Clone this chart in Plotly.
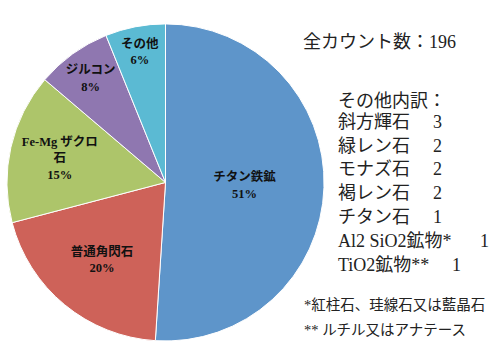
import plotly.graph_objects as go

minerals = ["チタン鉄鉱", "普通角閃石", "Fe-Mg ザクロ石", "ジルコン", "その他"]
display_names = ["チタン鉄鉱", "普通角閃石", "Fe-Mg ザクロ<br>石", "ジルコン", "その他"]
counts = [100, 39, 30, 15, 12]
colors = ["#5E95CA", "#CE6259", "#ADC56A", "#8F77B0", "#5BBAD3"]

total_count = 196
other_names = ["斜方輝石", "緑レン石", "モナズ石", "褐レン石", "チタン石", "Al2 SiO2鉱物*", "TiO2鉱物**"]
other_counts = [3, 2, 2, 2, 1, 1, 1]
footnotes = ["*紅柱石、珪線石又は藍晶石", "** ルチル又はアナテース"]

FONT = "Liberation Serif, Noto Sans CJK JP, serif"

fig = go.Figure()
fig.add_trace(go.Pie(
    labels=minerals,
    values=counts,
    customdata=display_names,
    texttemplate="<b>%{customdata}<br>%{percent:.0%}</b>",
    textposition="inside",
    insidetextorientation="horizontal",
    textfont=dict(family=FONT, size=12.5, color="#111"),
    marker=dict(colors=colors, line=dict(color="white", width=1)),
    sort=False,
    direction="clockwise",
    rotation=0,
    showlegend=False,
    hoverinfo="label+value+percent",
    domain=dict(x=[0.012, 0.65], y=[0.058, 0.934]),
))

ann = []
def px_x(x):
    return x / 500
def px_y(y):
    return 1 - y / 362

ann.append(dict(x=px_x(301), y=px_y(42), text=f"全カウント数：{total_count}", xanchor="left", yanchor="middle",
                font=dict(family=FONT, size=18, color="#222")))
ann.append(dict(x=px_x(336), y=px_y(101), text="その他内訳：", xanchor="left", yanchor="middle",
                font=dict(family=FONT, size=18, color="#222")))
line_y = [122, 145.5, 169, 193, 217, 241, 265]
num_x = [437, 437, 437, 437, 437, 484, 456]
for name, cnt, yy, nx in zip(other_names, other_counts, line_y, num_x):
    ann.append(dict(x=px_x(336), y=px_y(yy), text=name, xanchor="left", yanchor="middle",
                    font=dict(family=FONT, size=18, color="#222")))
    ann.append(dict(x=px_x(nx), y=px_y(yy), text=str(cnt), xanchor="center", yanchor="middle",
                    font=dict(family=FONT, size=18, color="#222")))
for t, yy in zip(footnotes, [305, 330]):
    ann.append(dict(x=px_x(302), y=px_y(yy), text=t, xanchor="left", yanchor="middle",
                    font=dict(family=FONT, size=14.5, color="#222")))
for a in ann:
    a.update(xref="paper", yref="paper", showarrow=False)

fig.update_layout(
    width=500, height=362,
    margin=dict(l=0, r=0, t=0, b=0),
    paper_bgcolor="white",
    plot_bgcolor="white",
    annotations=ann,
)
fig.write_html("out.html", config={"displayModeBar": False},
               post_script="document.body.style.margin='0';")
